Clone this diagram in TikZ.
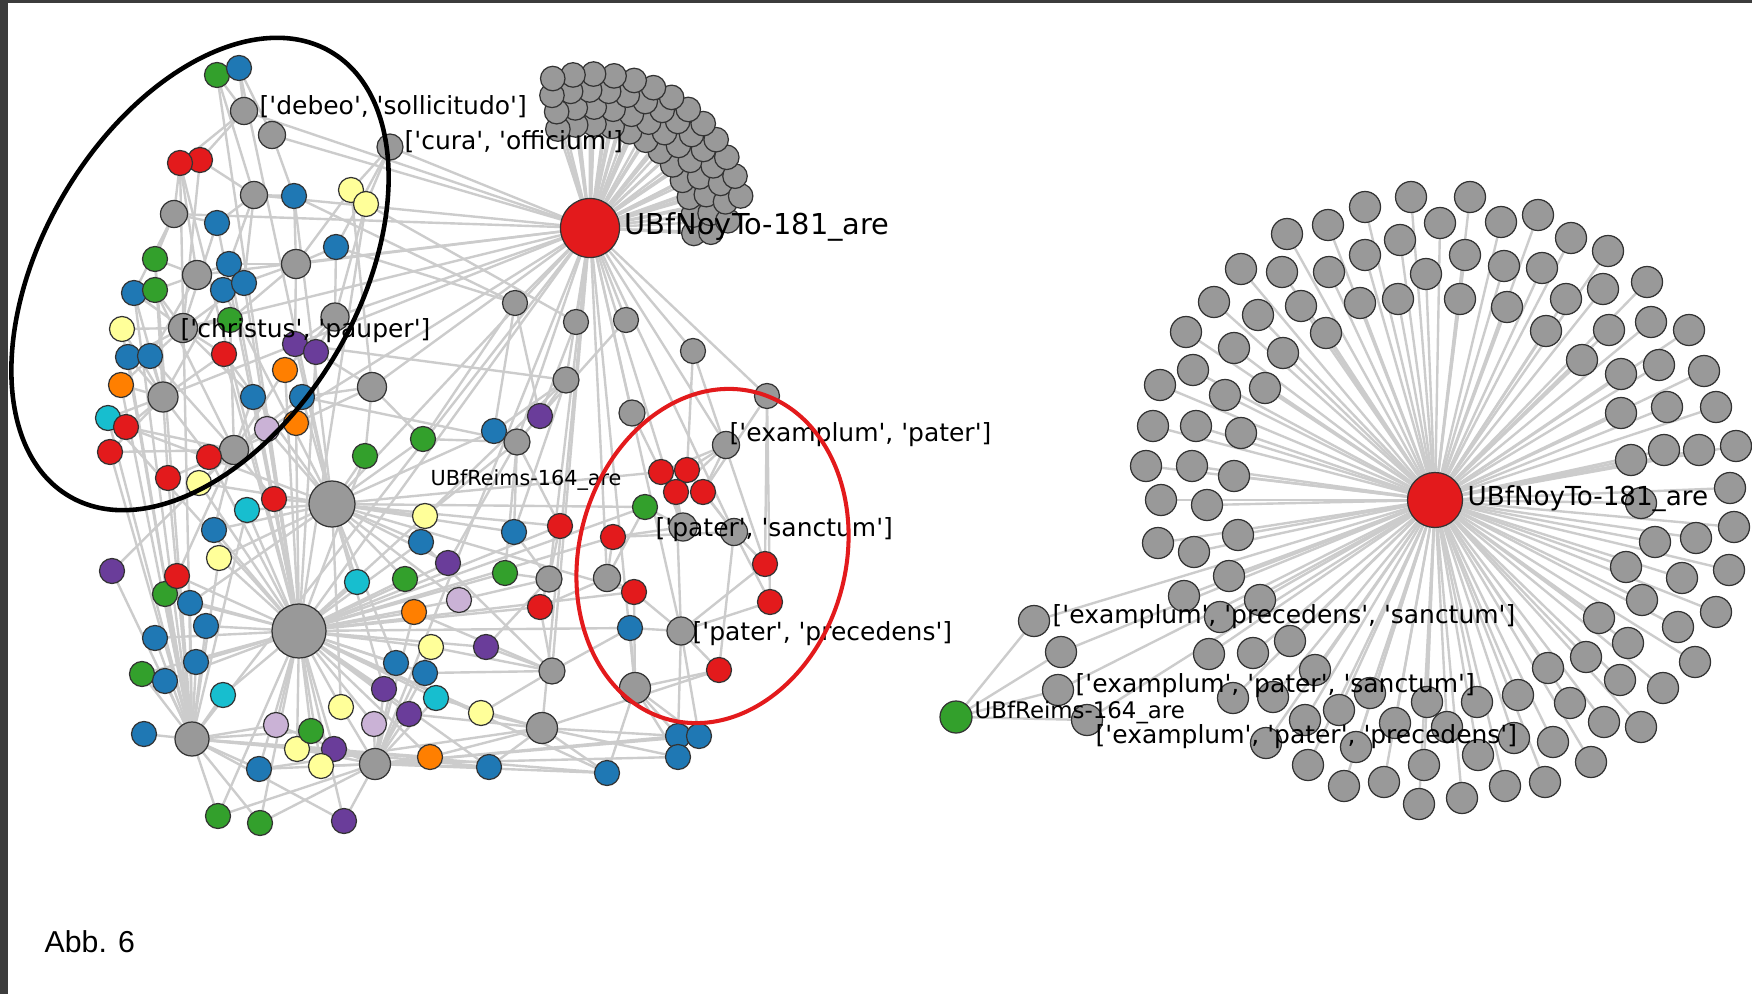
\documentclass[tikz,border=0pt]{standalone}
\usepackage{fontspec}
\newfontfamily\lbl{DejaVu Sans}
\newfontfamily\capf{Liberation Sans}
\pgfdeclarelayer{paper}
\pgfdeclarelayer{bg}
\pgfdeclarelayer{fg}
\pgfsetlayers{paper,bg,main,fg}
\definecolor{cred}{HTML}{E31A1C}
\definecolor{cblue}{HTML}{1F78B4}
\definecolor{cgreen}{HTML}{33A02C}
\definecolor{corange}{HTML}{FF7F00}
\definecolor{cpurple}{HTML}{6A3D9A}
\definecolor{clav}{HTML}{CAB2D6}
\definecolor{cyel}{HTML}{FFFF99}
\definecolor{ccyan}{HTML}{17BECF}
\definecolor{ngray}{HTML}{999999}
\definecolor{edgec}{HTML}{CCCCCC}
\definecolor{bordc}{HTML}{3C3C3C}
\begin{document}
\begin{tikzpicture}[x=0.01cm,y=-0.01cm,
  lk/.style={draw=edgec, line width=0.68pt},
  v/.style={circle, draw=black!80, line width=0.35pt, minimum size=0.25cm, inner sep=0pt, outer sep=0pt},
  gv/.style={v, fill=ngray},
  rv/.style={v, fill=ngray, minimum size=0.31cm},
  lab/.style={anchor=west, inner sep=0pt, font=\lbl\fontsize{7.1}{8.5}\selectfont},
]
\useasboundingbox (0,0) rectangle (1752,994);
\begin{pgfonlayer}{paper}
  \fill[white] (0,0) rectangle (1752,994);
  \fill[bordc] (0,0) rectangle (8,994);
  \fill[bordc] (0,0) rectangle (1752,3);
\end{pgfonlayer}

% hub documents
\node[v, fill=cred, minimum size=0.59cm] (nt) at (590,228) {};
\node[v, fill=cred, minimum size=0.55cm] (nr) at (1435,500) {};
\node[v, fill=cgreen, minimum size=0.32cm] (gr) at (956,717) {};

% term nodes of the left network
\foreach \n/\x/\y/\s in {
  g1/244/111/0.27, g2/272/135/0.27, g3/390/147/0.26, g4/254/195/0.27,
  g5/174/214/0.27, g6/197/275/0.29, g7/296/264/0.29, g8/335/317/0.28,
  g9/183/328/0.29, g10/163/397/0.30, g11/372/387/0.29, g12/515/303/0.25,
  g13/576/322/0.25, g14/566/380/0.26, g15/517/442/0.26, g16/234/450/0.29,
  g17/332/504/0.46, g18/626/320/0.25, g19/693/351/0.25, g20/632/413/0.26,
  g21/767/396/0.25, g22/726/445/0.27, g23/683/527/0.28, g24/734/532/0.27,
  g25/607/578/0.27, g26/681/631/0.28, g27/635/688/0.31, g28/542/728/0.31,
  g29/552/671/0.26, g30/549/579/0.26, g31/299/631/0.54, g32/192/739/0.34,
  g33/375/764/0.31}
  {\node[gv, minimum size=\s cm] (\n) at (\x,\y) {};}

% document nodes of the left network
\foreach \n/\x/\y/\c in {
  n1/217/75/cgreen, n2/239/68/cblue, n7/200/160/cred, n6/180/163/cred,
  n9/294/196/cblue, n10/351/190/cyel, n11/366/204/cyel, n13/217/223/cblue,
  n14/336/247/cblue, n15/155/259/cgreen, n17/229/264/cblue, n19/134/293/cblue,
  n20/155/290/cgreen, n21/223/290/cblue, n22/244/283/cblue, n23/230/320/cgreen,
  n25/122/329/cyel, n27/224/354/cred, n28/295/344/cpurple, n29/316/352/cpurple,
  n30/128/357/cblue, n31/150/356/cblue, n32/285/370/corange, n33/121/385/corange,
  n36/253/397/cblue, n37/302/397/cblue, n38/108/418/ccyan, n39/126/427/cred,
  n40/267/429/clav, n41/296/423/corange, n45/540/416/cpurple, n46/494/431/cblue,
  n48/423/439/cgreen, n49/365/456/cgreen, n50/110/452/cred, n51/209/457/cred,
  n53/168/478/cred, n54/199/483/cyel, n55/274/499/cred, n56/247/510/ccyan,
  m6/661/472/cred, m7/687/470/cred, m8/676/492/cred, m9/703/492/cred,
  m10/645/507/cgreen, m13/613/537/cred, m14/560/526/cred, m15/765/564/cred,
  m16/770/602/cred, m17/634/592/cred, m19/630/628/cblue, m21/719/670/cred,
  m23/678/736/cblue, m24/699/736/cblue, m25/678/757/cblue, m26/607/773/cblue,
  m29/514/532/cblue, m31/540/607/cred, m32/505/573/cgreen, m33/459/600/clav,
  m34/448/563/cpurple, m35/425/516/cyel, m36/421/542/cblue, m37/414/612/corange,
  m38/431/647/cyel, m39/486/647/cpurple, m40/425/673/cblue, m41/436/698/ccyan,
  m42/481/713/cyel, m43/430/757/corange, m44/489/767/cblue,
  b1/214/530/cblue, b2/219/558/cyel, b3/112/571/cpurple, b5/165/594/cgreen,
  b4/177/576/cred, b6/190/603/cblue, b7/206/626/cblue, b8/155/638/cblue,
  b10/196/662/cblue, b11/142/674/cgreen, b12/165/681/cblue, b13/223/695/ccyan,
  b14/144/734/cblue, b16/276/725/clav, b18/297/749/cyel, b17/311/731/cgreen,
  b19/334/749/cpurple, b20/321/766/cyel, b21/259/769/cblue, b22/341/707/cyel,
  b23/374/724/clav, b25/384/689/cpurple, b26/396/663/cblue, b29/409/714/cpurple,
  b32/405/579/cgreen, b33/357/582/ccyan, b49/218/816/cgreen, b50/260/823/cgreen,
  b51/344/821/cpurple}
  {\node[v, fill=\c] (\n) at (\x,\y) {};}

% crescent of terms used only by the upper hub
\foreach \rr/\angA/\angB/\nn in {104/-3/108/11, 121/-2/106/12, 138/3/106/13, 154/12/104/12}{
  \foreach \k in {0,...,\nn}{
    \pgfmathsetmacro{\ang}{\angA+(\angB-\angA)*\k/\nn}
    \node[gv, minimum size=0.245cm] (cl-\rr-\k) at ({590+\rr*cos(\ang)},{228-\rr*sin(\ang)}) {};
  }
}

% right network: terms around the hub
\foreach \x/\y [count=\i] in {
  1411/197, 1470/197, 1365/207, 1538/215, 1328/225, 1440/223, 1501/222, 1287/234,
  1571/238, 1400/240, 1608/251, 1365/255, 1465/255, 1504/266, 1542/268, 1241/269,
  1282/272, 1329/272, 1426/274, 1647/282, 1214/302, 1603/289, 1566/299, 1398/299,
  1460/299, 1360/303, 1507/307, 1301/306, 1258/315, 1546/331, 1609/330, 1651/322,
  1689/330, 1186/332, 1326/333, 1234/348, 1283/353, 1582/360, 1193/370, 1621/374,
  1659/365, 1704/371, 1160/385, 1265/388, 1225/395, 1621/413, 1667/407, 1716/407,
  1153/426, 1196/426, 1241/433, 1631/460, 1664/450, 1699/450, 1736/446, 1146/466,
  1192/466, 1234/476, 1161/500, 1207/505, 1730/488, 1641/503, 1158/543, 1194/552,
  1238/535, 1229/576, 1184/596, 1260/600, 1220/617, 1209/654, 1253/653, 1290/641,
  1315/670, 1233/698, 1273/697, 1305/720, 1339/710, 1370/693, 1395/723, 1427/702,
  1447/727, 1477/702, 1518/695, 1514/738, 1553/742, 1570/703, 1548/668, 1586/657,
  1620/680, 1663/688, 1604/722, 1641/727, 1591/762, 1478/755, 1424/765, 1356/747,
  1266/743, 1308/765, 1344/786, 1384/782, 1419/804, 1462/798, 1505/786, 1545/782,
  1599/618, 1628/643, 1678/627, 1695/662, 1716/612, 1642/600, 1626/567, 1682/578,
  1729/570, 1655/542, 1696/538, 1734/527}
  {\node[rv] (rg\i) at (\x,\y) {}; \xdef\nrg{\i}}

% shared terms of the two documents on the right
\node[rv] (rl1) at (1034,621) {};
\node[rv] (rl2) at (1061,652) {};
\node[rv] (rl3) at (1058,690) {};
\node[rv] (rl4) at (1087,720) {};

\begin{pgfonlayer}{bg}
  \foreach \i in {1,...,33} {\draw[lk] (nt) -- (g\i);}
  \foreach \rr/\nn in {104/11, 121/12, 138/13, 154/12}
    {\foreach \k in {0,...,\nn} {\draw[lk] (nt) -- (cl-\rr-\k);}}
  \foreach \i in {1,...,\nrg} {\draw[lk] (nr) -- (rg\i);}
  \foreach \i in {1,...,4} {\draw[lk] (nr) -- (rl\i); \draw[lk] (gr) -- (rl\i);}
  \foreach \a/\bs in {
    n1/{g1,g4,g31}, n2/{g1,g2,g17}, n6/{g1,g5,g6,g31,g32}, n7/{g1,g4,g9},
    n9/{g2,g4,g7,g17,g12}, n10/{g3,g7,g11}, n11/{g3,g8,g31,g13}, n13/{g4,g5,g9,g31},
    n14/{g7,g8,g3,g12}, n15/{g5,g6,g10,g32}, n17/{g4,g6,g7,g31}, n19/{g5,g9,g10,g32},
    n20/{g6,g9,g16}, n21/{g6,g7,g10,g17}, n22/{g4,g9,g31}, n23/{g9,g7,g16},
    n25/{g9,g10,g32}, n27/{g9,g10,g17,g31}, n28/{g7,g8,g17,g14}, n29/{g8,g11,g31},
    n30/{g9,g10,g32}, n31/{g6,g10,g16}, n32/{g8,g16,g31}, n33/{g10,g9,g32},
    n36/{g9,g16,g31}, n37/{g11,g17,g16,g15}, n38/{g10,g32,g31}, n39/{g10,g16,g17},
    n40/{g16,g17,g31}, n41/{g16,g11,g31}, n45/{g14,g15,g12,g13,g18}, n46/{g15,g12,g17,g14},
    n48/{g11,g15,g17,g12}, n49/{g11,g17,g31}, n50/{g10,g16,g32}, n51/{g16,g10,g31},
    n53/{g10,g16,g32}, n54/{g16,g17,g31}, n55/{g17,g31,g16}, n56/{g17,g31,g32},
    m6/{g22,g20,g23,g17}, m7/{g22,g19,g24}, m8/{g23,g22,g26}, m9/{g24,g22,g21},
    m10/{g23,g25,g17,g31}, m13/{g23,g25,g24,g31}, m14/{g30,g15,g17,g31}, m15/{g24,g21,g26,g19},
    m16/{g26,g24,g21}, m17/{g25,g26,g27,g31,g17}, m19/{g26,g27,g29,g31}, m21/{g26,g27,g24,g28},
    m23/{g27,g28,g26,g33}, m24/{g27,g26,g33}, m25/{g27,g28,g33}, m26/{g28,g27,g31,g33,g32},
    m29/{g15,g30,g17,g14}, m31/{g30,g29,g25,g31}, m32/{g30,g15,g31}, m33/{g30,g17,g31},
    m34/{g15,g17,g31}, m35/{g17,g15,g31,g14}, m36/{g17,g31,g29}, m37/{g31,g29,g33},
    m38/{g31,g29,g33}, m39/{g29,g30,g31}, m40/{g31,g29,g33}, m41/{g31,g28,g33},
    m42/{g28,g29,g31}, m43/{g33,g28,g31,g32}, m44/{g28,g33,g31,g32},
    b1/{g17,g31,g16}, b2/{g31,g17,g32}, b3/{g32,g16}, b4/{g31,g32,g16},
    b5/{g31,g32}, b6/{g31,g32,g17}, b7/{g31,g32}, b8/{g32,g31},
    b10/{g31,g32}, b11/{g32,g31}, b12/{g32,g31}, b13/{g31,g32},
    b14/{g32}, b16/{g31,g32,g33}, b17/{g31,g33,g32}, b18/{g31,g33},
    b19/{g31,g33,g32}, b20/{g33,g31}, b21/{g31,g32,g33,g28}, b22/{g31,g33,g17},
    b23/{g31,g33}, b25/{g31,g33,g17}, b26/{g31,g17,g33}, b29/{g31,g33,g28},
    b32/{g31,g17}, b33/{g31,g17}, b49/{g32,g31,g33}, b50/{g32,g33,g31},
    b51/{g33,g32,g31}}
    {\foreach \b in \bs {\draw[lk] (\a) -- (\b);}}
\end{pgfonlayer}

\begin{pgfonlayer}{fg}
  % labels
  \node[lab] (tdebeo) at (259,107) {['debeo', 'sollicitudo']};
  \node[lab] (tcura) at (404,142) {['cura', 'officium']};
  \node[lab] (tchr) at (180,331) {['christus', 'pauper']};
  \node[lab, font=\lbl\fontsize{8.2}{10}\selectfont] (tnt) at (624,227) {UBfNoyTo-181\_are};
  \node[lab, font=\lbl\fontsize{5.9}{7}\selectfont] (trl) at (430,480) {UBfReims-164\_are};
  \node[lab] (tep) at (729,435) {['examplum', 'pater']};
  \node[lab] (tps) at (655,530) {['pater', 'sanctum']};
  \node[lab] (tpp) at (692,634) {['pater', 'precedens']};
  \node[lab, font=\lbl\fontsize{7.45}{9}\selectfont] (tnr) at (1467,499) {UBfNoyTo-181\_are};
  \node[lab] (teps) at (1052,617) {['examplum', 'precedens', 'sanctum']};
  \node[lab] (teps2) at (1075,686) {['examplum', 'pater', 'sanctum']};
  \node[lab, font=\lbl\fontsize{6.5}{8}\selectfont] (trr) at (974,713) {UBfReims-164\_are};
  \node[lab] (tepp) at (1095,737) {['examplum', 'pater', 'precedens']};
  \node[anchor=base west, inner sep=0pt, font=\capf\fontsize{8.6}{10}\selectfont] (abb) at (44,952) {Abb. 6};
  % highlighted groups
  \draw[line width=1.3pt, rotate around={59.5:(200,274)}] (200,274) ellipse [x radius=2.577cm, y radius=1.576cm];
  \draw[draw=cred, line width=1.15pt, rotate around={74.8:(712.5,556)}] (712.5,556) ellipse [x radius=1.692cm, y radius=1.332cm];
\end{pgfonlayer}
\end{tikzpicture}
\end{document}
